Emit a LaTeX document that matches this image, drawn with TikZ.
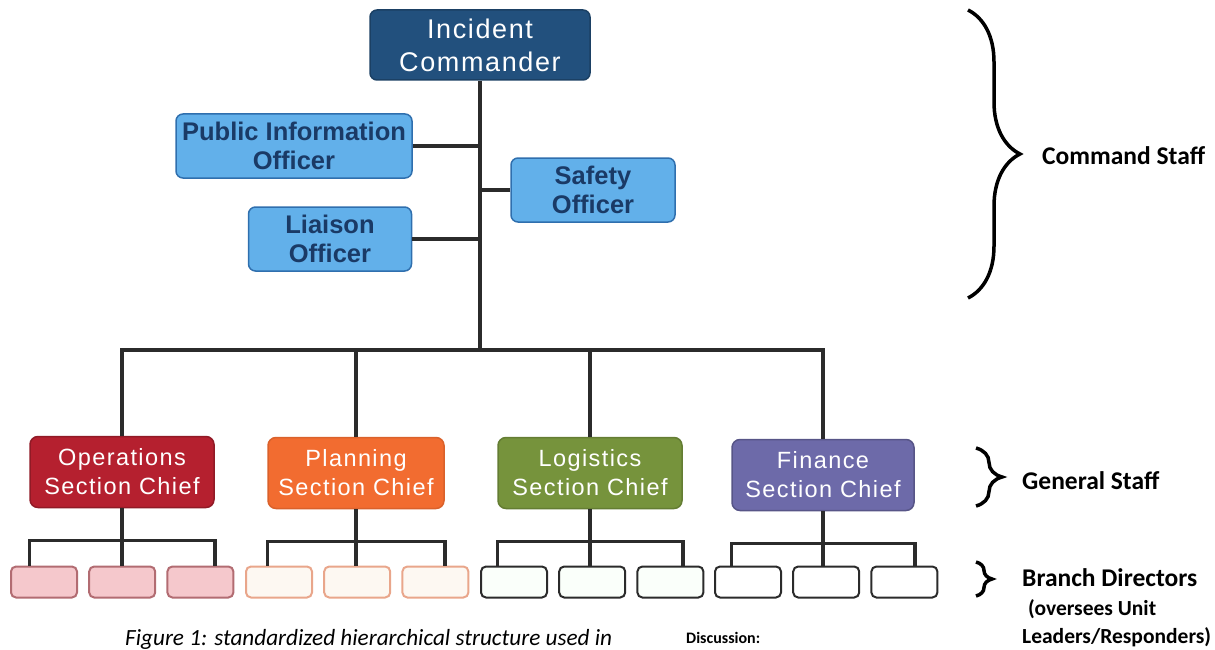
\documentclass[tikz,border=0pt]{standalone}
\usepackage{fontspec}
\setmainfont{Liberation Sans}
\newfontfamily\spacedfont[LetterSpace=6]{Liberation Sans}
\newfontfamily\notefont{Carlito}
\usetikzlibrary{positioning, calc, decorations.pathreplacing}

\definecolor{icblue}{HTML}{22507D}
\definecolor{officerblue}{HTML}{62B0EA}
\definecolor{officerline}{HTML}{2F6FAE}
\definecolor{navytext}{HTML}{1A3A66}
\definecolor{opsred}{HTML}{B5202F}
\definecolor{planorange}{HTML}{F26C30}
\definecolor{logigreen}{HTML}{76933C}
\definecolor{finpurple}{HTML}{6D6AA9}
\definecolor{opspink}{HTML}{F5C8CC}
\definecolor{opsrose}{HTML}{B26C72}
\definecolor{planpale}{HTML}{FDF8F2}
\definecolor{planpeach}{HTML}{E9A68B}
\definecolor{linkgray}{HTML}{2B2B2B}

\begin{document}
\begin{tikzpicture}[x=1pt, y=-1pt]
\tikzstyle{command}=[draw=icblue!80!black, line width=1.5pt, fill=icblue, rounded corners=7pt,
minimum width=220pt, minimum height=70pt, align=center, text=white,
font=\spacedfont\fontsize{27}{33}\selectfont]
\tikzstyle{officer}=[draw=officerline, line width=1.5pt, fill=officerblue, rounded corners=7pt,
minimum height=64pt, inner xsep=2pt, align=center, text=navytext, font=\bfseries\fontsize{25.5}{29}\selectfont]
\tikzstyle{chief}=[line width=1.5pt, rounded corners=8pt, minimum width=184pt, minimum height=71pt,
inner xsep=2pt, align=center, text=white, font=\spacedfont\fontsize{23.5}{29}\selectfont]
\tikzstyle{branch}=[line width=2pt, rounded corners=5pt, minimum width=66pt, minimum height=31pt,
inner sep=0pt]
\tikzstyle{link}=[draw=linkgray, line width=3.5pt]
\tikzstyle{staffbrace}=[draw=black, line width=3.5pt, decorate, decoration={brace, amplitude=#1}]
\tikzstyle{stafflabel}=[anchor=west, inner sep=0pt, font=\notefont\bfseries\fontsize{25.5}{28}\selectfont]
\tikzstyle{notelabel}=[anchor=west, inner sep=0pt, font=\notefont\bfseries\fontsize{21.5}{24}\selectfont]

\useasboundingbox (0,0) rectangle (1215,650);

% command staff
\node (ic) [command] at (480,45) {Incident\\Commander};
\node (pio) [officer, minimum width=236pt] at (294,146) {Public Information\\Officer};
\node (safety) [officer, minimum width=164pt] at (593,190) {Safety\\Officer};
\node (liaison) [officer, minimum width=163pt] at (330,239) {Liaison\\Officer};

\coordinate (hub) at (480,350);

% general staff
\node (ops) [chief, fill=opsred, draw=opsred!80!black] at (122,472) {Operations\\Section Chief};
\node (plan) [chief, fill=planorange, draw=planorange!90!black, minimum width=176pt] at (356,473) {Planning\\Section Chief};
\node (logi) [chief, fill=logigreen, draw=logigreen!85!black] at (590,473) {Logistics\\Section Chief};
\node (fin) [chief, fill=finpurple, draw=finpurple!80!black, minimum width=182pt] at (823,475) {Finance\\Section Chief};

% branch directors
\foreach \i in {1,2,3}
  \node (ops\i) [branch, fill=opspink, draw=opsrose] at ({44+78.2*(\i-1)},582) {};
\foreach \i in {1,2,3}
  \node (plan\i) [branch, fill=planpale, draw=planpeach] at ({279+78.2*(\i-1)},582) {};
\foreach \i in {1,2,3}
  \node (logi\i) [branch, fill=green!2, draw=linkgray] at ({514+78.2*(\i-1)},582) {};
\foreach \i in {1,2,3}
  \node (fin\i) [branch, fill=white, draw=linkgray] at ({748+78.2*(\i-1)},582) {};

% connections
\draw[link] (ic) -- (hub);
\draw[link] (pio) -- (pio -| hub);
\draw[link] (safety) -- (safety -| hub);
\draw[link] (liaison) -- (liaison -| hub);
\draw[link] (ops) |- (hub) -| (fin);
\draw[link] (plan) -- (plan |- hub);
\draw[link] (logi) -- (logi |- hub);

\draw[link] (ops.south) -- ++(0,32) coordinate (opsj) -- (opsj |- ops2.north);
\draw[link] (ops1.north -| ops.south west) |- (opsj) -| (ops3.north -| ops.south east);
\draw[link] (plan.south) -- ++(0,32) coordinate (planj) -- (planj |- plan2.north);
\draw[link] (plan1.north -| plan.south west) |- (planj) -| (plan3.north -| plan.south east);
\draw[link] (logi.south) -- ++(0,32) coordinate (logij) -- (logij |- logi2.north);
\draw[link] (logi1.north -| logi.south west) |- (logij) -| (logi3.north -| logi.south east);
\draw[link] (fin.south) -- ++(0,32) coordinate (finj) -- (finj |- fin2.north);
\draw[link] (fin1.north -| fin.south west) |- (finj) -| (fin3.north -| fin.south east);

% braces
\coordinate (cmdtop) at (968,10);
\coordinate (cmdbot) at (968,298);
\draw[staffbrace=52pt] (cmdtop) -- (cmdbot);
\node (cmdlabel) [stafflabel] at (1042,156) {Command Staff};

\coordinate (gentop) at (976,448);
\coordinate (genbot) at (976,506);
\draw[staffbrace=26pt] (gentop) -- (genbot);
\node (genlabel) [stafflabel] at (1022,481) {General Staff};

\coordinate (brtop) at (976,562);
\coordinate (brbot) at (976,596);
\draw[staffbrace=16pt] (brtop) -- (brbot);
\node (brlabel) [stafflabel] at (1022,578) {Branch Directors};
\node (brnote1) [notelabel] at (1028,609) {(oversees Unit};
\node (brnote2) [notelabel] at (1022,637) {Leaders/Responders)};

% caption
\node (caption) [anchor=base west, inner sep=0pt, font=\notefont\itshape\fontsize{23.2}{28}\selectfont] at (125,645) {Figure 1: standardized hierarchical structure used in};
\node (discuss) [anchor=base west, inner sep=0pt, font=\notefont\bfseries\fontsize{16}{20}\selectfont] at (686,643) {Discussion:};

\end{tikzpicture}
\end{document}
